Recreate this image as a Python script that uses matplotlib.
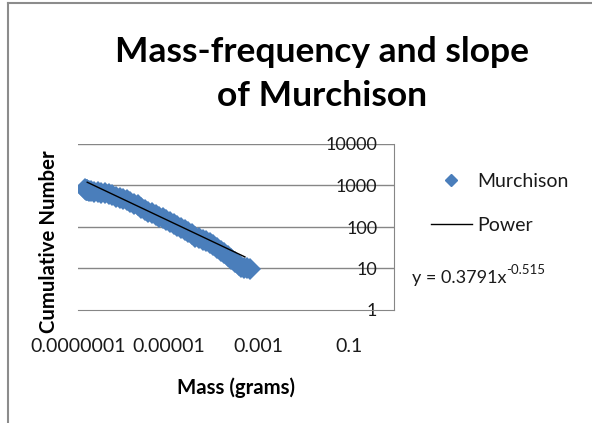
import matplotlib.pyplot as plt
from matplotlib.lines import Line2D

plt.rcParams['font.family'] = ['Lato', 'DejaVu Sans']

# Murchison fragments: mass (grams) and cumulative number
mass = [1.45e-7, 1.50e-7, 1.55e-7, 1.62e-7, 1.74e-7, 1.91e-7, 2.29e-7, 2.75e-7,
        3.31e-7, 3.98e-7, 4.79e-7, 5.75e-7, 6.92e-7, 8.32e-7, 1.00e-6, 1.20e-6,
        1.45e-6, 1.74e-6, 2.09e-6, 2.51e-6, 3.02e-6, 3.63e-6, 4.37e-6, 5.25e-6,
        6.31e-6, 7.59e-6, 9.12e-6, 1.10e-5, 1.32e-5, 1.58e-5, 1.91e-5, 2.29e-5,
        2.75e-5, 3.31e-5, 3.98e-5, 4.79e-5, 5.75e-5, 6.92e-5, 8.32e-5, 1.00e-4,
        1.20e-4, 1.45e-4, 1.74e-4, 2.09e-4, 2.51e-4, 3.02e-4, 3.63e-4, 4.17e-4,
        4.79e-4, 5.50e-4, 6.31e-4]
cumulative = [830, 800, 780, 760, 745, 730, 708, 692,
              676, 646, 617, 575, 537, 501, 468, 437,
              398, 363, 331, 295, 263, 234, 214, 195,
              178, 162, 148, 132, 117, 105, 93, 83,
              74, 66, 59, 54, 49, 45, 41, 36,
              32, 27, 23, 19.5, 16.6, 14.1, 12.0, 10.7,
              10.0, 10.0, 9.5]

# Power trendline as printed on the chart
trend_coef = 0.3791
trend_exp = -0.515
trend_x = [1.6e-7, 5.0e-4]
trend_y = [trend_coef * x ** trend_exp for x in trend_x]

x_ticks = [1e-7, 1e-5, 1e-3, 1e-1]
x_labels = ['0.0000001', '0.00001', '0.001', '0.1']
y_ticks = [1, 10, 100, 1000, 10000]
y_labels = ['1', '10', '100', '1000', '10000']

W, H = 592, 423
fig = plt.figure(figsize=(W / 100, H / 100), dpi=100)
ax = fig.add_axes([78 / W, 1 - 310 / H, 316 / W, 166 / H])

grey = '#868686'
blue = '#4A7EBB'
ink = '#1a1a1a'

ax.plot(mass, cumulative, 'D', color=blue, markersize=11, markeredgewidth=0, zorder=3)
ax.plot(trend_x, trend_y, color='black', linewidth=1, zorder=4)

ax.set_xscale('log')
ax.set_yscale('log')
ax.set_xlim(1e-7, 1)
ax.set_ylim(1, 10000)

ax.set_yticks(y_ticks)
ax.set_yticklabels(y_labels)
ax.set_xticks(x_ticks)
ax.set_xticklabels(x_labels)
ax.minorticks_off()
ax.tick_params(axis='y', length=0, pad=12, labelsize=13, labelcolor=ink)
ax.tick_params(axis='x', length=0, pad=20, labelsize=14, labelcolor=ink)

for y in y_ticks[1:]:
    ax.axhline(y, color=grey, linewidth=1, zorder=1)

for s in ['top', 'right']:
    ax.spines[s].set_visible(False)
ax.spines['left'].set_position(('data', 1))
ax.spines['left'].set_color(grey)
ax.spines['bottom'].set_color(grey)

handles = [Line2D([], [], marker='D', color=blue, linestyle='none', markersize=6),
           Line2D([], [], color='black', linewidth=1)]
fig.legend(handles, ['Murchison', 'Power'], loc='upper left',
           bbox_to_anchor=(431 / W, 1 - 173 / H), frameon=False,
           fontsize=14, handlelength=2.1, handletextpad=0.26, labelspacing=1.4,
           borderaxespad=0, borderpad=0, labelcolor=ink)

eq = fig.text(412 / W, 1 - 283 / H, 'y = 0.3791x', fontsize=13,
              va='baseline', color=ink)
fig.add_artist(plt.Annotation('-0.515', xy=(1.0, 0.62), xycoords=eq,
                              fontsize=9.5, va='bottom', ha='left', color=ink))

fig.text(322 / W, 1 - 62 / H, 'Mass-frequency and slope', fontsize=25.5,
         fontweight='bold', ha='center', va='baseline')
fig.text(322 / W, 1 - 106 / H, 'of Murchison', fontsize=25.5,
         fontweight='bold', ha='center', va='baseline')
fig.text(49 / W, 1 - 242 / H, 'Cumulative Number', fontsize=14.7, fontweight='bold',
         rotation=90, ha='center', va='center')
fig.text(236 / W, 1 - 388 / H, 'Mass (grams)', fontsize=14.7, fontweight='bold',
         ha='center', va='center')

# chart frame edges
fig.add_artist(Line2D([8 / W, 8 / W], [0, 1 - 3 / H], color='#8c8c8c', linewidth=1.5))
fig.add_artist(Line2D([8 / W, 1], [1 - 3 / H, 1 - 3 / H], color='#8c8c8c', linewidth=1.5))

fig.savefig('out.png', dpi=100)
